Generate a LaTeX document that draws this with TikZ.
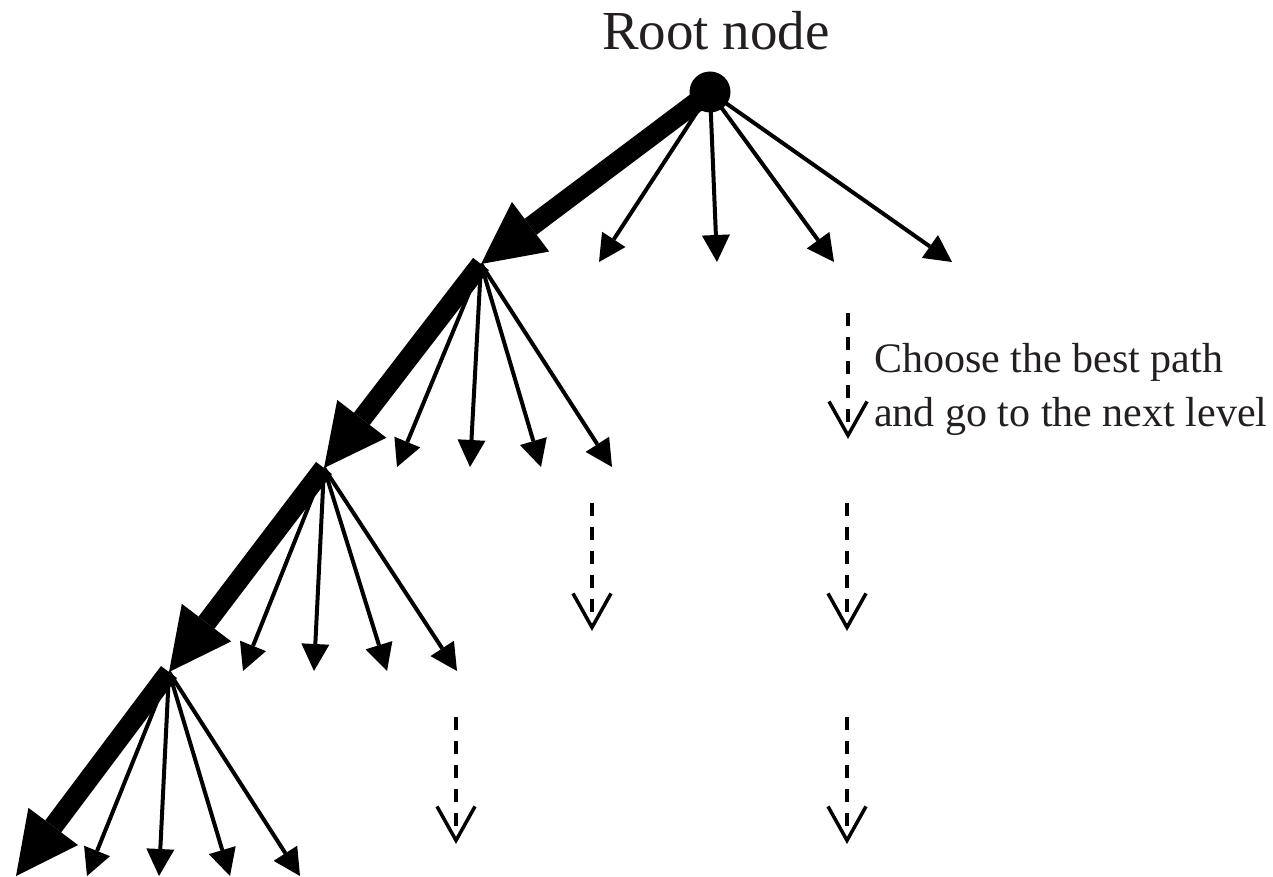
\documentclass[tikz,border=0pt]{standalone}
\usepackage{fontspec}
\setmainfont{Liberation Serif}
\usetikzlibrary{arrows.meta}
\definecolor{txt}{RGB}{35,31,32}
\begin{document}
\begin{tikzpicture}[x=1pt,y=-1pt,
  childarrow/.style={line width=4pt,-{Triangle[length=27pt,width=28pt,line width=0pt]}},
  bestarrow/.style={line width=20pt,-{Triangle[length=62pt,width=62pt,line width=0pt]}},
  nextarrow/.style={line width=4pt,dash pattern=on 13pt off 11pt,-{Straight Barb[length=34pt,width=38pt,line width=3.5pt]}},
  rootdot/.style={circle,fill=black,minimum size=41pt,inner sep=0pt},
  bigtext/.style={text=txt,inner sep=0pt,font=\fontsize{55}{60}\selectfont},
  labeltext/.style={text=txt,inner sep=0pt,anchor=base west,font=\fontsize{42}{50}\selectfont}
]
\useasboundingbox (0,0) rectangle (1273,877);

% tree levels
\coordinate (n0) at (710,92);
\coordinate (n1) at (481,264);
\coordinate (n2) at (324,468);
\coordinate (n3) at (169,672);
\coordinate (n4) at (16,876);

% children of level 0
\coordinate (c0a) at (599,262);
\coordinate (c0b) at (717,262);
\coordinate (c0c) at (834,262);
\coordinate (c0d) at (952,262);
% children of level 1
\coordinate (c1a) at (397,467);
\coordinate (c1b) at (470,467);
\coordinate (c1c) at (541,467);
\coordinate (c1d) at (612,467);
% children of level 2
\coordinate (c2a) at (243,671);
\coordinate (c2b) at (314,671);
\coordinate (c2c) at (387,671);
\coordinate (c2d) at (457,671);
% children of level 3
\coordinate (c3a) at (87,876);
\coordinate (c3b) at (159,876);
\coordinate (c3c) at (230,876);
\coordinate (c3d) at (300,876);

\foreach \s/\l in {n0/0,n1/1,n2/2,n3/3}{
  \foreach \c in {a,b,c,d}{
    \draw[childarrow] (\s) -- (c\l\c);
  }
}
\draw[bestarrow] (n0) -- (n1);
\draw[bestarrow] (n1) -- (n2);
\draw[bestarrow] (n2) -- (n3);
\draw[bestarrow] (n3) -- (n4);

\node[rootdot] (root) at (n0) {};
\node[bigtext,anchor=base] (roottext) at (716,50) {Root node};

% dashed "next level" arrows
\coordinate (d1s) at (848,313); \coordinate (d1e) at (848,439);
\coordinate (d2s) at (592,503); \coordinate (d2e) at (592,631);
\coordinate (d3s) at (847,503); \coordinate (d3e) at (847,631);
\coordinate (d4s) at (456,717); \coordinate (d4e) at (456,844);
\coordinate (d5s) at (847,717); \coordinate (d5e) at (847,844);
\foreach \i in {1,...,5}{
  \draw[nextarrow] (d\i s) -- (d\i e);
}

\node[labeltext] (lab1) at (874,372) {Choose the best path};
\node[labeltext] (lab2) at (874,426) {and go to the next level};
\end{tikzpicture}
\end{document}
